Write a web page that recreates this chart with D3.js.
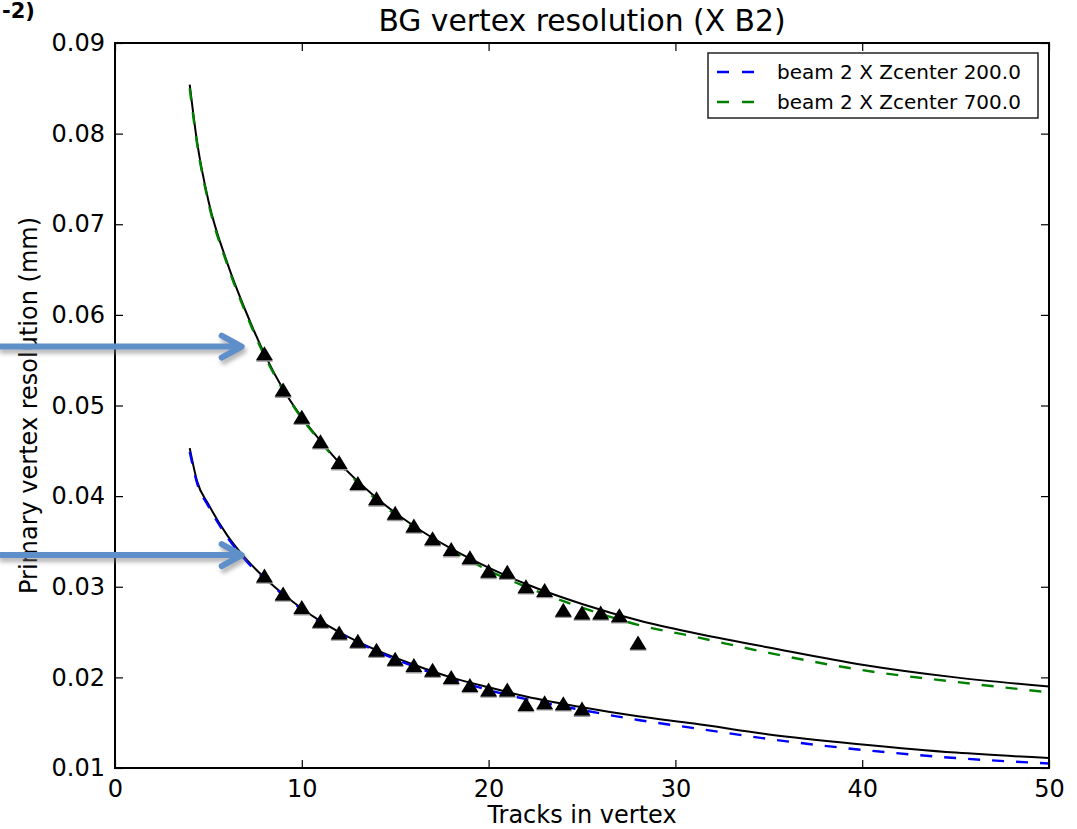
<!DOCTYPE html>
<html><head><meta charset="utf-8">
<script src="https://cdn.jsdelivr.net/npm/d3@7"></script>
<style>
body{margin:0;background:#fff}
svg{display:block}
text{font-family:"DejaVu Sans",sans-serif;fill:#000}
</style>
</head><body>
<svg id="chart" width="1077" height="829"></svg>
<script>
// ---------- data ----------
const xTicks = [0, 10, 20, 30, 40, 50];
const yTicks = [0.01, 0.02, 0.03, 0.04, 0.05, 0.06, 0.07, 0.08, 0.09];

const upperTracks = [8,9,10,11,12,13,14,15,16,17,18,19,20,21,22,23,24,25,26,27,28];
const upperRes    = [0.0557,0.0517,0.0487,0.0460,0.0437,0.0414,0.0397,0.0381,0.0367,0.0353,0.0341,0.0332,0.0317,0.0316,0.0300,0.0296,0.0274,0.0271,0.0271,0.0268,0.0238];

const lowerTracks = [8,9,10,11,12,13,14,15,16,17,18,19,20,21,22,23,24,25];
const lowerRes    = [0.0312,0.0292,0.0277,0.0262,0.0249,0.0240,0.0230,0.0220,0.0213,0.0208,0.0200,0.0191,0.0186,0.0186,0.0170,0.0172,0.0171,0.0165];

// fit curves
const fitX        = [4,4.4,5,6,7,8,9,10,11,12,14,16,18,20,22,25,28,31,35,40,45,50];
const upperSolid  = [0.0854,0.0790,0.0726,0.0658,0.0604,0.0557,0.0518,0.0487,0.0461,0.0437,0.0398,0.0367,0.0342,0.0321,0.0303,0.0281,0.0263,0.0249,0.0233,0.0214,0.0200,0.0190];
const upperDashed = [0.0850,0.0788,0.0724,0.0656,0.0602,0.0555,0.0517,0.0486,0.0460,0.0436,0.0396,0.0365,0.0340,0.0318,0.0300,0.0277,0.0258,0.0245,0.0227,0.0208,0.0195,0.01835];
const lowerSolid  = [0.0453,0.0416,0.0391,0.0357,0.0331,0.0310,0.0292,0.0276,0.0262,0.0250,0.0230,0.0214,0.0200,0.0189,0.0179,0.0167,0.0157,0.0149,0.0137,0.0126,0.0117,0.0111];
const lowerDashed = [0.0449,0.0414,0.0389,0.0355,0.0329,0.0309,0.0291,0.0275,0.0261,0.0249,0.0229,0.0212,0.0198,0.0186,0.0176,0.0164,0.0153,0.0144,0.0132,0.0120,0.0111,0.0105];

const legendLabels = ["beam 2 X Zcenter 200.0", "beam 2 X Zcenter 700.0"];
const legendColors = ["#0000ff", "#008000"];
const arrowTargets = [[6.78, 0.0565], [6.78, 0.0335]];

// ---------- layout ----------
const L = 115, R = 1049, T = 43, B = 768;
const svg = d3.select("#chart");
const x = d3.scaleLinear().domain([0, 50]).range([L, R]);
const y = d3.scaleLinear().domain([0.01, 0.09]).range([B, T]);

const defs = svg.append("defs");
defs.append("clipPath").attr("id", "clip")
  .append("rect").attr("x", L).attr("y", T).attr("width", R - L).attr("height", B - T);
const f = defs.append("filter").attr("id", "shadow").attr("x", "-20%").attr("y", "-50%").attr("width", "140%").attr("height", "200%");
f.append("feDropShadow").attr("dx", 2).attr("dy", 4).attr("stdDeviation", 2)
  .attr("flood-color", "#777").attr("flood-opacity", 0.55);

// axes (ticks inward on all sides)
const fs = "24px";
const ax = svg.append("g").attr("transform", `translate(0,${B})`)
  .call(d3.axisBottom(x).tickValues(xTicks).tickFormat(d3.format("d")).tickSizeInner(-8).tickSizeOuter(0).tickPadding(12));
const ay = svg.append("g").attr("transform", `translate(${L},0)`)
  .call(d3.axisLeft(y).tickValues(yTicks).tickFormat(d3.format(".2f")).tickSizeInner(-8).tickSizeOuter(0).tickPadding(10));
const at = svg.append("g").attr("transform", `translate(0,${T})`)
  .call(d3.axisTop(x).tickValues(xTicks).tickFormat("").tickSizeInner(-8).tickSizeOuter(0));
const ar = svg.append("g").attr("transform", `translate(${R},0)`)
  .call(d3.axisRight(y).tickValues(yTicks).tickFormat("").tickSizeInner(-8).tickSizeOuter(0));
[ax, ay, at, ar].forEach(g => {
  g.select(".domain").remove();
  g.selectAll(".tick line").attr("stroke", "#000").attr("stroke-width", 1.2);
  g.selectAll(".tick text").style("font-size", fs).style("font-family", "DejaVu Sans").attr("fill", "#000");
});

// curves
const plot = svg.append("g").attr("clip-path", "url(#clip)");
const line = d3.line().x(d => x(d[0])).y(d => y(d[1])).curve(d3.curveMonotoneX);
const mk = arr => fitX.map((v, i) => [v, arr[i]]);
plot.append("path").attr("d", line(mk(upperSolid))).attr("fill", "none").attr("stroke", "#000").attr("stroke-width", 2);
plot.append("path").attr("d", line(mk(lowerSolid))).attr("fill", "none").attr("stroke", "#000").attr("stroke-width", 2);
plot.append("path").attr("d", line(mk(upperDashed))).attr("fill", "none").attr("stroke", legendColors[1]).attr("stroke-width", 2.4).attr("stroke-dasharray", "12,12");
plot.append("path").attr("d", line(mk(lowerDashed))).attr("fill", "none").attr("stroke", legendColors[0]).attr("stroke-width", 2.4).attr("stroke-dasharray", "12,12");

// triangle markers
const tri = "M0,-7.5L8.5,6.5L-8.5,6.5Z";
function markers(xs, ys) {
  const pts = xs.map((v, i) => [v, ys[i]]);
  plot.append("g").selectAll("path").data(pts).join("path")
    .attr("d", tri).attr("fill", "#999")
    .attr("transform", d => `translate(${x(d[0])},${y(d[1]) + 1.3})`);
  plot.append("g").selectAll("path").data(pts).join("path")
    .attr("d", tri).attr("fill", "#000")
    .attr("transform", d => `translate(${x(d[0])},${y(d[1])})`);
}
markers(upperTracks, upperRes);
markers(lowerTracks, lowerRes);

// frame
svg.append("rect").attr("x", L).attr("y", T).attr("width", R - L).attr("height", B - T)
  .attr("fill", "none").attr("stroke", "#000").attr("stroke-width", 2);

// legend
const lg = svg.append("g");
lg.append("rect").attr("x", 708).attr("y", 53).attr("width", 330).attr("height", 65)
  .attr("fill", "#fff").attr("stroke", "#222").attr("stroke-width", 1.5);
legendLabels.forEach((lab, i) => {
  const yy = 72 + i * 30;
  lg.append("line").attr("x1", 717).attr("x2", 755).attr("y1", yy).attr("y2", yy)
    .attr("stroke", legendColors[i]).attr("stroke-width", 2.4).attr("stroke-dasharray", "12,13");
  lg.append("text").attr("x", 777).attr("y", yy + 7).style("font-size", "20px").text(lab);
});

// titles
svg.append("text").attr("x", (L + R) / 2).attr("y", 31).attr("text-anchor", "middle")
  .style("font-size", "29.8px").text("BG vertex resolution (X B2)");
svg.append("text").attr("x", (L + R) / 2).attr("y", 823).attr("text-anchor", "middle")
  .style("font-size", fs).text("Tracks in vertex");
svg.append("text").attr("transform", `translate(37,${(T + B) / 2}) rotate(-90)`).attr("text-anchor", "middle")
  .style("font-size", fs).text("Primary vertex resolution (mm)");
svg.append("text").attr("x", 2).attr("y", 18).style("font-size", "21px").style("font-weight", "bold").text("-2)");

// annotation arrows
const ag = svg.append("g").attr("filter", "url(#shadow)");
arrowTargets.forEach(([tx, ty]) => {
  const px = x(tx), py = y(ty);
  ag.append("path")
    .attr("d", `M0,${py}H${px - 2}M${px - 20},${py - 11}L${px},${py}L${px - 20},${py + 11}`)
    .attr("fill", "none").attr("stroke", "#5f8fc8").attr("stroke-width", 6)
    .attr("stroke-linecap", "round").attr("stroke-linejoin", "round");
});
</script>
</body></html>
